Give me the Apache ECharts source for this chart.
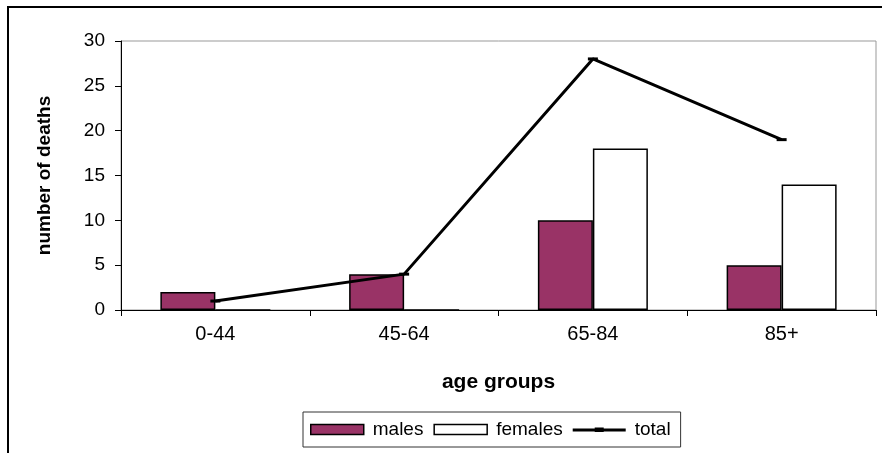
<!DOCTYPE html>
<html>
<head>
<meta charset="utf-8">
<script src="https://cdn.jsdelivr.net/npm/echarts@6/dist/echarts.min.js"></script>
<style>
html,body{margin:0;padding:0;background:#fff;}
#chart{width:882px;height:453px;}
</style>
</head>
<body>
<div id="chart"></div>
<script>
const categories = ['0-44', '45-64', '65-84', '85+'];
const males = [2, 4, 10, 5];
const females = [0, 0, 18, 14];
const total = [1, 4, 28, 19];
const yTicks = { min: 0, max: 30, interval: 5 };

const chart = echarts.init(document.getElementById('chart'), null, { renderer: 'canvas' });
const FONT = 'Liberation Sans, Arial, sans-serif';
chart.setOption({
  animation: false,
  backgroundColor: '#fff',
  graphic: [{
    type: 'rect',
    shape: { x: 8, y: 7, width: 900, height: 500 },
    style: { fill: 'none', stroke: '#000', lineWidth: 2 },
    z: -1
  }],
  grid: {
    left: 121, top: 41, right: 6, bottom: 143,
    show: true, borderColor: '#999', borderWidth: 1, backgroundColor: '#fff'
  },
  legend: {
    left: 303, top: 412,
    padding: [8, 10, 8, 7],
    borderColor: '#333', borderWidth: 1,
    itemWidth: 53, itemHeight: 10, itemGap: 10,
    textStyle: { fontFamily: FONT, fontSize: 19, color: '#000', padding: [0, 0, 0, 4] },
    data: [
      { name: 'males', icon: 'rect', itemStyle: { color: '#993366', borderColor: '#000', borderWidth: 1.5 } },
      { name: 'females', icon: 'rect', itemStyle: { color: '#fff', borderColor: '#000', borderWidth: 1.5 } },
      { name: 'total', icon: 'path://M0,0 M53,10 M0,4 L53,4 L53,7 L0,7 Z M22,3 L31,3 L31,7.5 L22,7.5 Z',
        itemStyle: { color: '#000', borderWidth: 0 } }
    ]
  },
  xAxis: {
    type: 'category',
    data: categories,
    name: 'age groups',
    nameLocation: 'middle',
    nameGap: 62,
    nameTextStyle: { fontFamily: FONT, fontSize: 21, fontWeight: 'bold', color: '#000' },
    axisLine: { lineStyle: { color: '#000', width: 1 } },
    axisTick: { show: true, length: 6, alignWithLabel: false, lineStyle: { color: '#000' } },
    axisLabel: { fontFamily: FONT, fontSize: 20, color: '#000', margin: 14 },
    splitLine: { show: false }
  },
  yAxis: {
    type: 'value',
    min: yTicks.min, max: yTicks.max, interval: yTicks.interval,
    name: 'number of deaths',
    nameLocation: 'middle',
    nameRotate: 90,
    nameGap: 67,
    nameTextStyle: { fontFamily: FONT, fontSize: 19, fontWeight: 'bold', color: '#000' },
    axisLine: { show: true, lineStyle: { color: '#000', width: 1 } },
    axisTick: { show: true, length: 6, lineStyle: { color: '#000' } },
    axisLabel: { fontFamily: FONT, fontSize: 19, color: '#000', margin: 16 },
    splitLine: { show: false }
  },
  series: [
    {
      name: 'males', type: 'bar', data: males,
      barWidth: 55, barGap: '0%',
      itemStyle: { color: '#993366', borderColor: '#000', borderWidth: 1.5 }
    },
    {
      name: 'females', type: 'bar', data: females,
      barWidth: 55, barGap: '0%',
      itemStyle: { color: '#fff', borderColor: '#000', borderWidth: 1.5 }
    },
    {
      name: 'total', type: 'line', data: total,
      symbol: 'rect', symbolSize: [10, 3],
      itemStyle: { color: '#000' },
      lineStyle: { color: '#000', width: 3 },
      z: 5
    }
  ]
});
</script>
</body>
</html>
